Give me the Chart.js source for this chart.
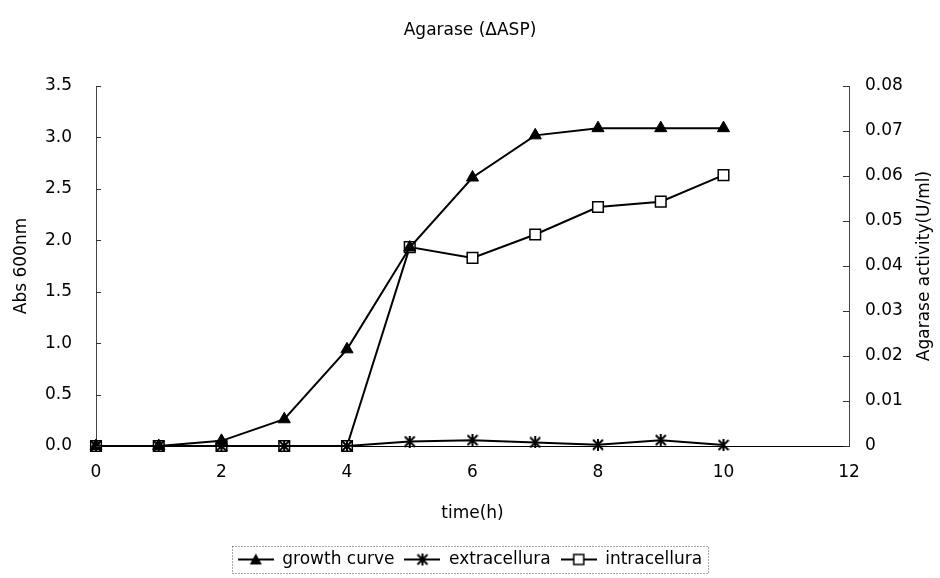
<!DOCTYPE html>
<html>
<head>
<meta charset="utf-8">
<script src="https://cdn.jsdelivr.net/npm/chart.js@4"></script>
<style>
  html, body { margin: 0; padding: 0; background: #fff; }
  #wrap { width: 940px; height: 578px; }
</style>
</head>
<body>
<div id="wrap"><canvas id="chart"></canvas></div>
<script>
// time points (h)
const hours = [0, 1, 2, 3, 4, 5, 6, 7, 8, 9, 10];
// Abs 600nm (left axis)
const growthCurve = [0, 0, 0.05, 0.26, 0.94, 1.93, 2.61, 3.02, 3.09, 3.09, 3.09];
// agarase activity U/ml (right axis)
const extracellura = [0, 0, 0, 0, 0, 0.001, 0.0013, 0.0008, 0.0003, 0.0013, 0.0002];
const intracellura = [0, 0, 0, 0, 0, 0.0442, 0.0418, 0.047, 0.0531, 0.0543, 0.0602];

const seriesNames = ['growth curve', 'extracellura', 'intracellura'];
const chartTitle = 'Agarase (\u0394ASP)';
const xTitle = 'time(h)';
const leftTitle = 'Abs 600nm';
const rightTitle = 'Agarase activity(U/ml)';

const FONT = 'DejaVu Sans';

function toPoints(values) {
  return hours.map((h, i) => ({ x: h, y: values[i] }));
}

// asterisk marker: X with a vertical bar
function asteriskMarker(size) {
  const c = document.createElement('canvas');
  c.width = size; c.height = size;
  const g = c.getContext('2d');
  g.strokeStyle = '#000';
  g.lineWidth = 2;
  g.beginPath();
  g.moveTo(1, 1); g.lineTo(size - 1, size - 1);
  g.moveTo(size - 1, 1); g.lineTo(1, size - 1);
  g.moveTo(size / 2, 0); g.lineTo(size / 2, size);
  g.stroke();
  return c;
}

// legend swatch: line with the marker in the middle
function legendSwatch(kind) {
  const w = 36, h = 16;
  const c = document.createElement('canvas');
  c.width = w; c.height = h;
  const g = c.getContext('2d');
  g.strokeStyle = '#000';
  g.fillStyle = '#000';
  g.lineWidth = 2;
  g.beginPath();
  g.moveTo(0, h / 2); g.lineTo(w, h / 2);
  g.stroke();
  const cx = w / 2, cy = h / 2;
  if (kind === 'triangle') {
    g.beginPath();
    g.moveTo(cx, cy - 6); g.lineTo(cx + 6, cy + 5); g.lineTo(cx - 6, cy + 5);
    g.closePath(); g.fill();
  } else if (kind === 'asterisk') {
    g.beginPath();
    g.moveTo(cx - 5, cy - 5); g.lineTo(cx + 5, cy + 5);
    g.moveTo(cx + 5, cy - 5); g.lineTo(cx - 5, cy + 5);
    g.moveTo(cx, cy - 6); g.lineTo(cx, cy + 6);
    g.stroke();
  } else {
    g.fillStyle = '#fff';
    g.fillRect(cx - 5, cy - 5, 10, 10);
    g.lineWidth = 1.5;
    g.strokeRect(cx - 5, cy - 5, 10, 10);
  }
  return c;
}

const swatches = [legendSwatch('triangle'), legendSwatch('asterisk'), legendSwatch('square')];

// inward tick marks on both y axes, dotted box round the legend, right title
const decorPlugin = {
  id: 'decor',
  afterDraw(chart) {
    const { ctx, chartArea } = chart;
    ctx.save();
    ctx.strokeStyle = '#333';
    ctx.lineWidth = 1;
    const yl = chart.scales.y;
    yl.ticks.forEach(t => {
      const py = Math.round(yl.getPixelForValue(t.value)) + 0.5;
      ctx.beginPath();
      ctx.moveTo(chartArea.left, py); ctx.lineTo(chartArea.left + 5, py);
      ctx.stroke();
    });
    const yr = chart.scales.y2;
    yr.ticks.forEach(t => {
      const py = Math.round(yr.getPixelForValue(t.value)) + 0.5;
      ctx.beginPath();
      ctx.moveTo(chartArea.right, py); ctx.lineTo(chartArea.right - 6, py);
      ctx.stroke();
    });

    const boxes = chart.legend.legendHitBoxes;
    if (boxes && boxes.length) {
      const l = Math.min(...boxes.map(b => b.left)) - 6;
      const r = Math.max(...boxes.map(b => b.left + b.width)) + 6;
      const t = Math.min(...boxes.map(b => b.top)) - 5;
      const b = Math.max(...boxes.map(b => b.top + b.height)) + 5;
      ctx.strokeStyle = '#555';
      ctx.setLineDash([1, 2]);
      ctx.strokeRect(Math.round(l) + 0.5, Math.round(t) + 0.5, Math.round(r - l), Math.round(b - t));
      ctx.setLineDash([]);
    }

    ctx.fillStyle = '#000';
    ctx.font = '17px "' + FONT + '"';
    ctx.textAlign = 'center';
    ctx.textBaseline = 'middle';
    ctx.translate(925, (chartArea.top + chartArea.bottom) / 2);
    ctx.rotate(-Math.PI / 2);
    ctx.fillText(rightTitle, 0, 0);
    ctx.restore();
  }
};

Chart.defaults.font.family = FONT;
Chart.defaults.font.size = 17;
Chart.defaults.color = '#000';

new Chart(document.getElementById('chart'), {
  type: 'line',
  data: {
    datasets: [
      {
        label: seriesNames[0],
        data: toPoints(growthCurve),
        yAxisID: 'y',
        borderColor: '#000',
        backgroundColor: '#000',
        borderWidth: 2,
        pointStyle: 'triangle',
        pointRadius: 7,
        pointBorderWidth: 1,
        clip: false
      },
      {
        label: seriesNames[1],
        data: toPoints(extracellura),
        yAxisID: 'y2',
        borderColor: '#000',
        backgroundColor: '#000',
        borderWidth: 2,
        pointStyle: asteriskMarker(12),
        pointRadius: 6,
        clip: false
      },
      {
        label: seriesNames[2],
        data: toPoints(intracellura),
        yAxisID: 'y2',
        borderColor: '#000',
        backgroundColor: '#fff',
        borderWidth: 2,
        pointStyle: 'rect',
        pointRadius: 7.5,
        pointBorderWidth: 1.5,
        clip: false
      }
    ]
  },
  options: {
    responsive: true,
    maintainAspectRatio: false,
    animation: false,
    layout: { padding: 0 },
    scales: {
      x: {
        type: 'linear',
        min: 0,
        max: 12,
        grid: { display: false, drawTicks: false },
        border: { display: true, color: '#000', width: 1 },
        ticks: { stepSize: 2, padding: 16 },
        title: { display: true, text: xTitle, padding: { top: 0, bottom: 17 } },
        afterFit(scale) { scale.height = 95; }
      },
      y: {
        position: 'left',
        min: 0,
        max: 3.5,
        grid: { display: false, drawTicks: false },
        border: { display: true, color: '#444', width: 1, dash: [3, 2] },
        ticks: { stepSize: 0.5, padding: 24, callback: v => v.toFixed(1) },
        title: { display: true, text: leftTitle, padding: { top: 11, bottom: 0 } },
        afterFit(scale) { scale.width = 96; }
      },
      y2: {
        position: 'right',
        min: 0,
        max: 0.08,
        grid: { display: false, drawTicks: false },
        border: { display: true, color: '#444', width: 1, dash: [3, 2] },
        ticks: { stepSize: 0.01, padding: 16, callback: v => (v === 0 ? '0' : v.toFixed(2)) },
        afterFit(scale) { scale.width = 91; }
      }
    },
    plugins: {
      title: {
        display: true,
        text: chartTitle,
        font: { size: 17, weight: 'normal' },
        padding: { top: 20, bottom: 45.6 }
      },
      legend: {
        position: 'bottom',
        labels: {
          usePointStyle: true,
          pointStyleWidth: 36,
          boxHeight: 16,
          padding: 10,
          generateLabels(chart) {
            return chart.data.datasets.map((ds, i) => ({
              text: ds.label,
              pointStyle: swatches[i],
              fillStyle: '#000',
              strokeStyle: '#000',
              lineWidth: 0,
              hidden: false,
              datasetIndex: i
            }));
          }
        }
      },
      tooltip: { enabled: false }
    }
  },
  plugins: [decorPlugin]
});
</script>
</body>
</html>
